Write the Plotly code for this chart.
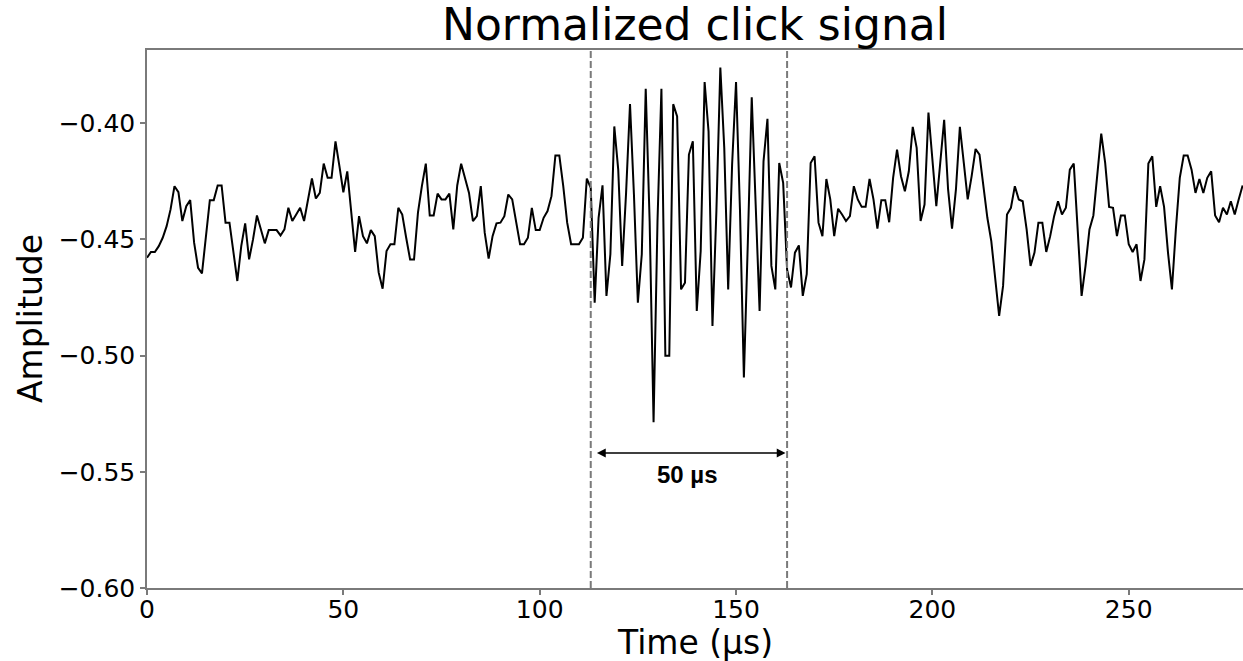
import plotly.graph_objects as go

# ---- data ----
amplitude = [
    -0.4579, -0.4554, -0.4554, -0.4529, -0.4493, -0.4443, -0.4371, -0.4271, -0.4297, -0.4421,
    -0.4357, -0.4331, -0.4514, -0.4622, -0.4646, -0.4500, -0.4331, -0.4331, -0.4268, -0.4268,
    -0.4428, -0.4428, -0.4557, -0.4679, -0.4529, -0.4431, -0.4586, -0.4500, -0.4397, -0.4457,
    -0.4517, -0.4460, -0.4460, -0.4460, -0.4483, -0.4457, -0.4364, -0.4421, -0.4393, -0.4364,
    -0.4421, -0.4328, -0.4238, -0.4324, -0.4300, -0.4174, -0.4235, -0.4235, -0.4078, -0.4185,
    -0.4297, -0.4207, -0.4378, -0.4554, -0.4400, -0.4486, -0.4517, -0.4460, -0.4486, -0.4643,
    -0.4712, -0.4550, -0.4521, -0.4521, -0.4364, -0.4393, -0.4493, -0.4586, -0.4586, -0.4385,
    -0.4271, -0.4174, -0.4397, -0.4397, -0.4303, -0.4328, -0.4328, -0.4303, -0.4457, -0.4268,
    -0.4174, -0.4235, -0.4300, -0.4421, -0.4400, -0.4271, -0.4471, -0.4583, -0.4486, -0.4431,
    -0.4428, -0.4400, -0.4307, -0.4328, -0.4428, -0.4521, -0.4521, -0.4493, -0.4364, -0.4460,
    -0.4460, -0.4407, -0.4378, -0.4314, -0.4139, -0.4139, -0.4271, -0.4428, -0.4521, -0.4521,
    -0.4521, -0.4493, -0.4238, -0.4278, -0.4772, -0.4407, -0.4267, -0.4743, -0.4564, -0.4014,
    -0.4200, -0.4614, -0.4300, -0.3918, -0.4307, -0.4772, -0.4564, -0.3852, -0.4421, -0.5287,
    -0.4421, -0.3852, -0.5001, -0.5001, -0.3918, -0.3971, -0.4715, -0.4686, -0.4135, -0.4078,
    -0.4808, -0.4550, -0.3823, -0.4035, -0.4872, -0.4378, -0.3760, -0.4106, -0.4715, -0.4178,
    -0.3823, -0.4371, -0.5094, -0.4514, -0.3888, -0.4350, -0.4808, -0.4164, -0.3981, -0.4614,
    -0.4715, -0.4171, -0.4257, -0.4630, -0.4707, -0.4557, -0.4526, -0.4743, -0.4650, -0.4171,
    -0.4142, -0.4428, -0.4486, -0.4240, -0.4328, -0.4486, -0.4368, -0.4393, -0.4421, -0.4400,
    -0.4271, -0.4328, -0.4360, -0.4360, -0.4240, -0.4328, -0.4454, -0.4331, -0.4331, -0.4426,
    -0.4235, -0.4114, -0.4228, -0.4293, -0.4207, -0.4016, -0.4106, -0.4421, -0.4350, -0.3954,
    -0.4142, -0.4357, -0.4171, -0.3985, -0.4285, -0.4454, -0.4285, -0.4016, -0.4171, -0.4328,
    -0.4228, -0.4111, -0.4135, -0.4285, -0.4407, -0.4507, -0.4672, -0.4829, -0.4700, -0.4393,
    -0.4364, -0.4271, -0.4328, -0.4336, -0.4457, -0.4614, -0.4557, -0.4428, -0.4428, -0.4554,
    -0.4486, -0.4400, -0.4336, -0.4393, -0.4364, -0.4200, -0.4174, -0.4443, -0.4743, -0.4614,
    -0.4457, -0.4397, -0.4228, -0.4045, -0.4171, -0.4360, -0.4364, -0.4486, -0.4397, -0.4397,
    -0.4521, -0.4554, -0.4521, -0.4679, -0.4586, -0.4174, -0.4142, -0.4360, -0.4271, -0.4360,
    -0.4557, -0.4715, -0.4457, -0.4235, -0.4139, -0.4139, -0.4200, -0.4300, -0.4240, -0.4300,
    -0.4235, -0.4207, -0.4397, -0.4426, -0.4364, -0.4393, -0.4336, -0.4393, -0.4328, -0.4268,
]
time_us = list(range(len(amplitude)))  # 1 µs sampling

burst_start = 113
burst_end = 163
arrow_y = -0.5419
label_text = "50 µs"
x_ticks = [0, 50, 100, 150, 200, 250]
y_ticks = [-0.60, -0.55, -0.50, -0.45, -0.40]

title_text = "Normalized click signal"
x_title = "Time (µs)"
y_title = "Amplitude"

FONT = "DejaVu Sans"
GRAY = "#7a7a7a"

fig = go.Figure()
fig.add_trace(go.Scatter(
    x=time_us, y=amplitude, mode="lines",
    line=dict(color="black", width=2),
    showlegend=False, hoverinfo="skip",
))

for xv in (burst_start, burst_end):
    fig.add_shape(type="line", xref="x", yref="paper", x0=xv, x1=xv, y0=0, y1=1,
                  line=dict(color=GRAY, width=2, dash="7px,3px"))

# double-headed arrow
fig.add_annotation(x=burst_end - 0.4, y=arrow_y, ax=burst_start + 1.2, ay=arrow_y,
                   xref="x", yref="y", axref="x", ayref="y",
                   text="", showarrow=True, arrowhead=2, arrowside="end+start",
                   arrowsize=1.1, arrowwidth=1.6, arrowcolor="black", standoff=0, startstandoff=0)
fig.add_annotation(x=(burst_start + burst_end) / 2 - 0.4, y=-0.5513, xref="x", yref="y",
                   text="<b>" + label_text + "</b>", showarrow=False,
                   font=dict(family="Liberation Sans", size=24, color="black"),
                   xanchor="center", yanchor="middle")

# axis titles as annotations
fig.add_annotation(x=0.5, y=0, xref="paper", yref="paper", text=x_title, showarrow=False,
                   xanchor="center", yanchor="middle", yshift=-54,
                   font=dict(family=FONT, size=33, color="black"))
fig.add_annotation(x=0, y=0.5, xref="paper", yref="paper", text=y_title, showarrow=False,
                   xanchor="center", yanchor="middle", xshift=-117, textangle=-90,
                   font=dict(family=FONT, size=33, color="black"))

fig.update_layout(
    width=1243, height=661,
    margin=dict(l=147, r=0, t=50, b=73),
    paper_bgcolor="white", plot_bgcolor="white",
    font=dict(family=FONT, color="black"),
    title=dict(text=title_text, x=0.5, xref="paper", xanchor="center",
               y=1 - 25 / 661, yref="container", yanchor="middle",
               font=dict(family=FONT, size=44, color="black")),
    xaxis=dict(range=[0, 279.1], tickvals=x_ticks, showgrid=False, zeroline=False,
               showline=True, linecolor=GRAY, linewidth=1.5, mirror=True,
               ticks="outside", ticklen=5, tickcolor=GRAY, tickwidth=1.5,
               ticklabelstandoff=-7,
               tickfont=dict(family=FONT, size=25, color="black")),
    yaxis=dict(range=[-0.60, -0.3685], tickvals=y_ticks, tickformat=".2f",
               showgrid=False, zeroline=False,
               showline=True, linecolor=GRAY, linewidth=1.5, mirror=False,
               ticks="outside", ticklen=5, tickcolor=GRAY, tickwidth=1.5,
               tickfont=dict(family=FONT, size=25, color="black")),
)

fig.write_html("out.html")
